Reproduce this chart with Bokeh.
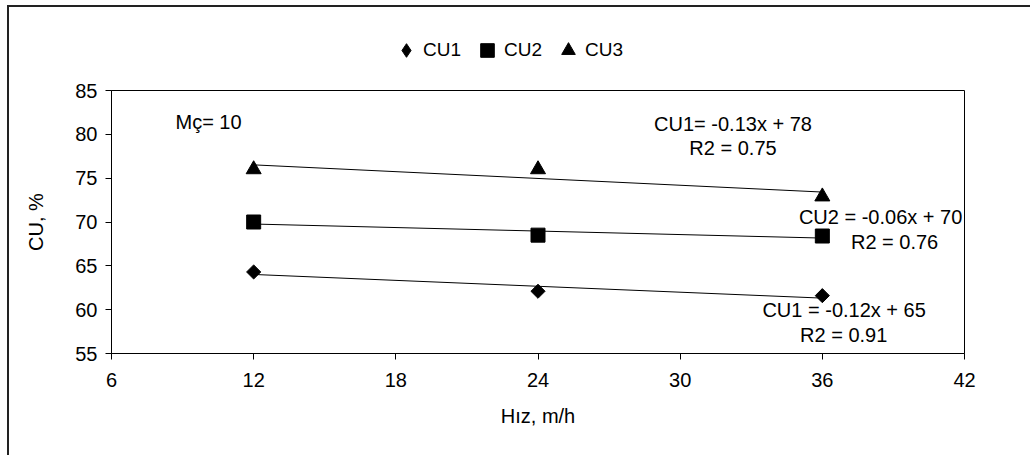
import numpy as np
from bokeh.plotting import figure
from bokeh.layouts import column
from bokeh.models import (FixedTicker, Legend, LegendItem, Label, Range1d)
from bokeh.embed import file_html
from bokeh.resources import INLINE

# ---- data ----
speed = [12, 24, 36]
cu1 = [64.3, 62.1, 61.6]
cu2 = [70.0, 68.5, 68.4]
cu3 = [76.0, 76.0, 72.9]
x_ticks = [6, 12, 18, 24, 30, 36, 42]
y_ticks = [55, 60, 65, 70, 75, 80, 85]
series_names = ["CU1", "CU2", "CU3"]
annotations = ["Mç= 10", "CU1= -0.13x + 78", "R2 = 0.75",
               "CU2 = -0.06x + 70", "R2 = 0.76",
               "CU1 = -0.12x + 65", "R2 = 0.91"]

FONT = "Liberation Sans"

# ---------------- main chart ----------------
p = figure(width=1021, height=386, output_backend="svg", toolbar_location=None,
           x_range=Range1d(x_ticks[0], x_ticks[-1]),
           y_range=Range1d(y_ticks[0], y_ticks[-1]),
           min_border_left=102, min_border_right=66,
           min_border_top=21, min_border_bottom=102)
p.background_fill_color = "white"
p.border_fill_color = "white"
p.outline_line_color = "black"
p.outline_line_width = 1
p.xgrid.visible = False
p.ygrid.visible = False

p.xaxis.ticker = FixedTicker(ticks=x_ticks)
p.yaxis.ticker = FixedTicker(ticks=y_ticks)
p.xaxis.axis_label = "Hız, m/h"
p.yaxis.axis_label = "CU, %"
for ax in (p.xaxis[0], p.yaxis[0]):
    ax.axis_line_color = "black"
    ax.major_tick_line_color = "black"
    ax.major_tick_out = 6
    ax.major_tick_in = 0
    ax.minor_tick_out = 0
    ax.minor_tick_in = 0
    ax.major_label_text_font = FONT
    ax.major_label_text_font_size = "20px"
    ax.major_label_text_color = "black"
    ax.axis_label_text_font = FONT
    ax.axis_label_text_font_size = "20px"
    ax.axis_label_text_font_style = "normal"
    ax.axis_label_text_color = "black"
p.xaxis.major_label_standoff = 13
p.xaxis.axis_label_standoff = 15
p.yaxis.major_label_standoff = 8
p.yaxis.axis_label_standoff = 25

# trend lines (least squares from the data)
xs_fit = np.array([min(speed), max(speed)], dtype=float)
for ys in (cu1, cu2, cu3):
    m, b = np.polyfit(speed, ys, 1)
    p.line(xs_fit, m * xs_fit + b, line_color="black", line_width=1)

# markers
p.scatter(speed, cu1, marker="square", angle=np.pi / 4, size=10, color="black")
p.scatter(speed, cu2, marker="square", size=14, color="black")
p.scatter(speed, cu3, marker="triangle", size=15, color="black")

# text annotations (placement in data units)
placements = [(8.70, 81.4, "left"), (32.23, 81.2, "center"), (32.23, 78.42, "center"),
              (38.46, 70.6, "center"), (39.05, 67.67, "center"),
              (36.92, 60.0, "center"), (36.9, 57.16, "center")]
for txt, (x, y, al) in zip(annotations, placements):
    p.add_layout(Label(x=x, y=y, text=txt, text_align=al, text_baseline="middle",
                       text_font=FONT, text_font_size="20px", text_color="black"))

# ---------------- legend strip above the chart ----------------
lg = figure(width=1021, height=62, output_backend="svg", toolbar_location=None,
            x_range=Range1d(0, 1), y_range=Range1d(0, 1),
            x_axis_location=None, y_axis_location=None,
            min_border_left=0, min_border_right=0, min_border_top=0, min_border_bottom=0)
lg.outline_line_color = None
lg.background_fill_color = "white"
lg.border_fill_color = "white"
lg.xgrid.visible = False
lg.ygrid.visible = False
k1 = lg.scatter(speed, cu1, marker="diamond", size=14, color="black")
k2 = lg.scatter(speed, cu2, marker="square", size=14, color="black")
k3 = lg.scatter(speed, cu3, marker="triangle", size=15, color="black")
legend = Legend(items=[LegendItem(label=series_names[0], renderers=[k1]),
                       LegendItem(label=series_names[1], renderers=[k2]),
                       LegendItem(label=series_names[2], renderers=[k3])],
                orientation="horizontal", location=(278, 2),
                glyph_width=34, glyph_height=34, label_standoff=0, spacing=9,
                padding=0, margin=0, border_line_alpha=0, background_fill_alpha=0,
                label_text_font=FONT, label_text_font_size="19px",
                label_text_color="black")
lg.add_layout(legend)

page = column(lg, p, spacing=0)
# outer chart-area border (continues past the bottom of the window)
page.margin = (5, 0, 0, 7)
page.styles = {"border-left": "2px solid #222222", "border-top": "2px solid #222222"}

with open("out.html", "w", encoding="utf-8") as f:
    f.write(file_html(page, INLINE))
